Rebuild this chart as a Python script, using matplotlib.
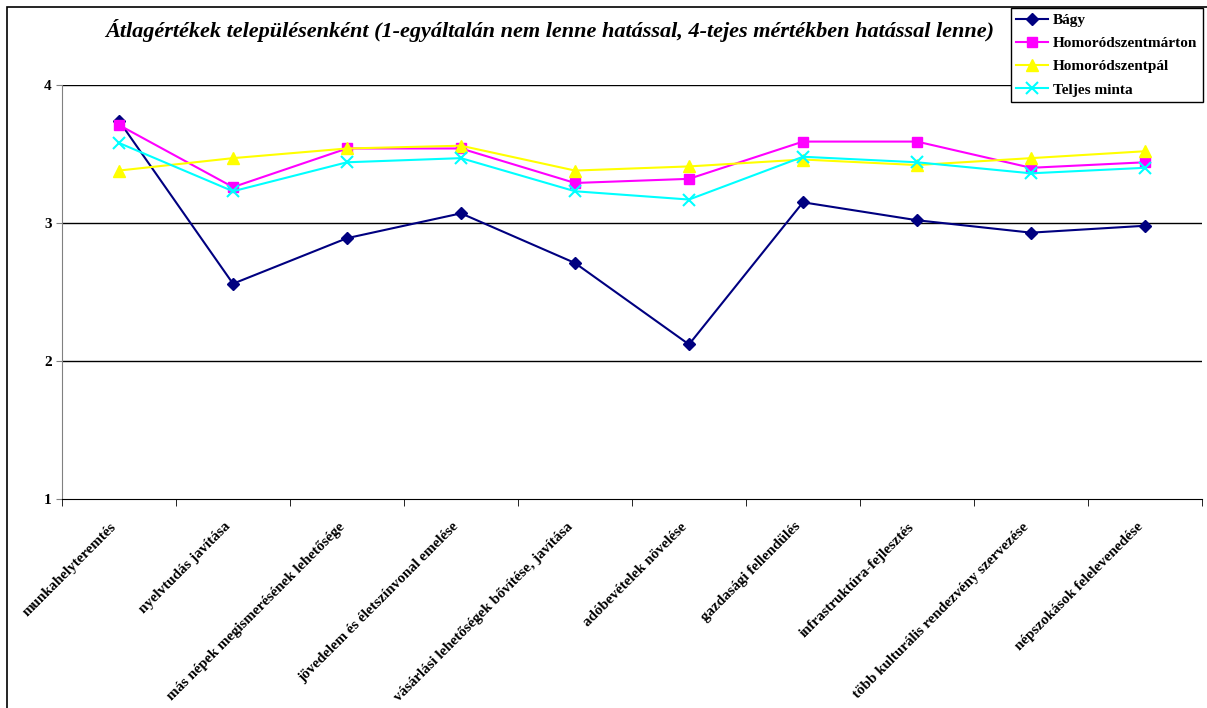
import numpy as np
import matplotlib
matplotlib.use("Agg")
import matplotlib.pyplot as plt
from matplotlib.patches import Rectangle
from matplotlib.transforms import ScaledTranslation

plt.rcParams['font.family'] = ['Liberation Serif', 'DejaVu Serif']

categories = [
    "munkahelyteremtés",
    "nyelvtudás javítása",
    "más népek megismerésének lehetősége",
    "jövedelem és életszínvonal emelése",
    "vásárlási lehetőségek bővítése, javítása",
    "adóbevételek növelése",
    "gazdasági fellendülés",
    "infrastruktúra-fejlesztés",
    "több kulturális rendezvény szervezése",
    "népszokások felelevenedése",
]

bagy = [3.74, 2.56, 2.89, 3.07, 2.71, 2.12, 3.15, 3.02, 2.93, 2.98]
marton = [3.71, 3.26, 3.54, 3.54, 3.29, 3.32, 3.59, 3.59, 3.40, 3.44]
pal = [3.38, 3.47, 3.54, 3.56, 3.38, 3.41, 3.46, 3.42, 3.47, 3.52]
teljes = [3.58, 3.23, 3.44, 3.47, 3.23, 3.17, 3.48, 3.44, 3.36, 3.40]

series = [
    ("Bágy", bagy, "#000080", "D", 6, 1.5),
    ("Homoródszentmárton", marton, "#ff00ff", "s", 7, 1.5),
    ("Homoródszentpál", pal, "#ffff00", "^", 8, 1.5),
    ("Teljes minta", teljes, "#00ffff", "x", 8, 1.5),
]

W, H = 1207, 708
fig = plt.figure(figsize=(W / 100, H / 100), dpi=100)

# keret a diagram körül
fig.patches.append(Rectangle((7 / W, -0.1), 1.2, 1 - 7 / H + 0.1,
                             transform=fig.transFigure, fill=False,
                             edgecolor="black", linewidth=1.2))

ax = fig.add_axes([62 / W, 1 - 499 / H, 1140 / W, 414 / H])
x = np.arange(len(categories))

for name, vals, col, mk, ms, lw in series:
    kw = dict(markeredgecolor=col, markerfacecolor=col)
    if mk == "x":
        kw["markeredgewidth"] = 1.5
    ax.plot(x, vals, color=col, marker=mk, markersize=ms, linewidth=lw,
            label=name, **kw)

ax.set_xlim(-0.5, len(categories) - 0.5)
ax.set_ylim(1, 4)
ax.set_yticks([1, 2, 3, 4])
ax.set_yticklabels(["1", "2", "3", "4"], fontweight="bold", fontsize=11)
for yv in [2, 3, 4]:
    ax.axhline(yv, color="black", linewidth=1, zorder=0)

ax.set_xticks(x)
ax.set_xticklabels(categories, rotation=45, ha="right",
                   rotation_mode="anchor", fontweight="bold", fontsize=10.8)
ax.tick_params(axis="x", which="major", length=0, pad=8)
ax.set_xticks(np.arange(len(categories) + 1) - 0.5, minor=True)
ax.tick_params(axis="x", which="minor", length=5, direction="out",
               color="black")
ax.tick_params(axis="y", length=4, direction="out", color="#808080")

# feliratok eltolása balra-le
off = ScaledTranslation(-9 / 100, -10 / 100, fig.dpi_scale_trans)
for lbl in ax.get_xticklabels():
    lbl.set_transform(lbl.get_transform() + off)

ax.spines["top"].set_visible(False)
ax.spines["right"].set_visible(False)
ax.spines["left"].set_color("#808080")
ax.spines["bottom"].set_color("black")

fig.text(550 / W, 1 - 31 / H,
         "Átlagértékek településenként (1-egyáltalán nem lenne hatással, "
         "4-tejes mértékben hatással lenne)",
         ha="center", va="center", fontsize=16, fontstyle="italic",
         fontweight="bold")

leg = fig.legend(loc="upper right", bbox_to_anchor=(1203 / W, 1 - 8 / H),
                 prop={"weight": "bold", "size": 11}, fancybox=False,
                 edgecolor="black", framealpha=1, borderpad=0.35,
                 labelspacing=0.62, handlelength=2.1, handletextpad=0.35,
                 borderaxespad=0)
leg.get_frame().set_linewidth(1)

fig.savefig("out.png", dpi=100)
